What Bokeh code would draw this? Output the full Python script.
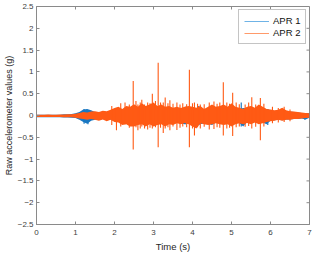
import math
from bokeh.plotting import figure
from bokeh.models import LinearAxis, Legend, LegendItem, Range1d, FixedTicker
from bokeh.embed import file_html
from bokeh.resources import INLINE

# ---- data ----
t_env = [round(0.1 * i, 1) for i in range(71)]

apr2_hi = [0.02, 0.02, 0.02, 0.025, 0.02, 0.02, 0.025, 0.025, 0.03, 0.03,
           0.04, 0.06, 0.08, 0.07, 0.09, 0.10, 0.08, 0.11, 0.10, 0.13,
           0.17, 0.20, 0.15, 0.22, 0.20, 0.26, 0.20, 0.28, 0.22, 0.25,
           0.30, 0.22, 0.25, 0.20, 0.22, 0.18, 0.20, 0.17, 0.20, 0.22,
           0.20, 0.18, 0.22, 0.15, 0.20, 0.25, 0.20, 0.22, 0.25, 0.20,
           0.28, 0.20, 0.18, 0.15, 0.20, 0.22, 0.18, 0.25, 0.20, 0.15,
           0.14, 0.12, 0.13, 0.18, 0.12, 0.10, 0.09, 0.08, 0.07, 0.06, 0.05]
apr2_lo = [-0.035, -0.035, -0.035, -0.035, -0.035, -0.035, -0.035, -0.04, -0.04, -0.04,
           -0.05, -0.07, -0.08, -0.10, -0.08, -0.10, -0.12, -0.09, -0.13, -0.10,
           -0.15, -0.16, -0.22, -0.20, -0.25, -0.25, -0.22, -0.20, -0.25, -0.20,
           -0.25, -0.22, -0.20, -0.25, -0.20, -0.22, -0.18, -0.20, -0.17, -0.20,
           -0.25, -0.30, -0.18, -0.20, -0.22, -0.20, -0.18, -0.20, -0.22, -0.20,
           -0.25, -0.20, -0.18, -0.20, -0.17, -0.20, -0.16, -0.20, -0.18, -0.15,
           -0.13, -0.12, -0.10, -0.12, -0.10, -0.10, -0.08, -0.08, -0.07, -0.06, -0.05]

apr1_hi = [0.02, 0.02, 0.02, 0.02, 0.02, 0.02, 0.02, 0.03, 0.03, 0.035,
           0.05, 0.08, 0.14, 0.15, 0.12, 0.08, 0.07, 0.09, 0.08, 0.10,
           0.14, 0.16, 0.13, 0.18, 0.17, 0.20, 0.18, 0.22, 0.18, 0.20,
           0.22, 0.18, 0.20, 0.17, 0.18, 0.15, 0.16, 0.15, 0.17, 0.18,
           0.17, 0.15, 0.20, 0.13, 0.17, 0.20, 0.17, 0.18, 0.20, 0.17,
           0.22, 0.17, 0.15, 0.17, 0.16, 0.18, 0.15, 0.20, 0.16, 0.15,
           0.12, 0.10, 0.11, 0.14, 0.10, 0.09, 0.08, 0.07, 0.06, 0.06, 0.05]
apr1_lo = [-0.04, -0.04, -0.04, -0.04, -0.04, -0.04, -0.04, -0.045, -0.045, -0.05,
           -0.06, -0.10, -0.15, -0.19, -0.12, -0.10, -0.10, -0.08, -0.11, -0.09,
           -0.13, -0.14, -0.18, -0.17, -0.20, -0.21, -0.19, -0.17, -0.21, -0.18,
           -0.21, -0.19, -0.18, -0.22, -0.18, -0.19, -0.16, -0.18, -0.20, -0.18,
           -0.21, -0.25, -0.20, -0.18, -0.19, -0.22, -0.16, -0.18, -0.19, -0.17,
           -0.21, -0.18, -0.17, -0.25, -0.15, -0.18, -0.15, -0.18, -0.16, -0.20,
           -0.12, -0.11, -0.09, -0.11, -0.09, -0.09, -0.08, -0.08, -0.07, -0.09, -0.05]

spike2_t = [1.93, 2.05, 2.16, 2.27, 2.38, 2.48, 2.55, 2.60, 2.66, 2.70, 2.77, 2.85,
            2.91, 2.97, 3.05, 3.12, 3.18, 3.25, 3.30, 3.37, 3.42, 3.50, 3.60, 3.68,
            3.75, 3.85, 3.92, 4.00, 4.05, 4.13, 4.20, 4.30, 4.43, 4.55, 4.63, 4.70,
            4.79, 4.88, 4.95, 5.03, 5.12, 5.20, 5.35, 5.44, 5.52, 5.62, 5.74, 5.83,
            6.05, 6.20, 6.35, 6.50]
spike2_hi = [0.22, 0.15, 0.28, 0.30, 0.25, 0.79, 0.33, 0.25, 0.30, 0.36, 0.25, 0.30,
             0.28, 0.50, 0.33, 1.21, 0.30, 0.30, 0.41, 0.28, 0.35, 0.27, 0.30, 0.25,
             0.28, 0.26, 1.05, 0.28, 0.30, 0.27, 0.25, 0.26, 0.30, 0.32, 0.27, 0.30,
             0.76, 0.30, 0.27, 0.52, 0.30, 0.26, 0.25, 0.30, 0.42, 0.25, 0.40, 0.27,
             0.20, 0.17, 0.20, 0.14]
spike2_lo = [-0.22, -0.34, -0.25, -0.20, -0.28, -0.78, -0.27, -0.34, -0.30, -0.25, -0.30, -0.32,
             -0.28, -0.30, -0.27, -0.73, -0.28, -0.40, -0.30, -0.27, -0.34, -0.25, -0.33, -0.28,
             -0.25, -0.27, -0.73, -0.30, -0.46, -0.27, -0.30, -0.26, -0.32, -0.31, -0.27, -0.28,
             -0.46, -0.30, -0.28, -0.47, -0.27, -0.25, -0.26, -0.24, -0.30, -0.26, -0.57, -0.25,
             -0.18, -0.16, -0.15, -0.13]

spike1_t = [1.22, 1.32, 3.82, 4.16, 5.25, 5.93, 6.88]
spike1_hi = [0.15, 0.12, 0.20, 0.22, 0.30, 0.15, 0.06]
spike1_lo = [-0.19, -0.20, -0.20, -0.15, -0.25, -0.22, -0.10]

x_ticks = [0, 1, 2, 3, 4, 5, 6, 7]
y_ticks = [-2.5, -2, -1.5, -1, -0.5, 0, 0.5, 1, 1.5, 2, 2.5]
x_min, x_max = 0, 7
y_min, y_max = -2.5, 2.5

BLUE = "#1a78c2"
ORANGE = "#ff5a14"
AXC = "#8a8a8a"
TXT = "#404040"
FONT = "Liberation Sans"

p = figure(width=314, height=254, output_backend="svg", toolbar_location=None,
           x_range=Range1d(x_min, x_max), y_range=Range1d(y_min, y_max),
           min_border_left=32, min_border_right=5, min_border_top=6,
           min_border_bottom=30, x_axis_location=None, y_axis_location=None)
p.xgrid.visible = False
p.ygrid.visible = False
p.outline_line_color = AXC
p.background_fill_color = "white"
p.border_fill_color = "white"

def style_axis(ax):
    ax.axis_line_color = AXC
    ax.major_tick_line_color = AXC
    ax.major_tick_in = 3
    ax.major_tick_out = 0
    ax.minor_tick_line_color = None
    ax.major_label_text_font = FONT
    ax.major_label_text_font_size = "8px"
    ax.major_label_text_color = TXT
    ax.axis_label_text_font = FONT
    ax.axis_label_text_font_size = "9px"
    ax.axis_label_text_font_style = "normal"
    ax.axis_label_text_color = "#262626"

xb = LinearAxis(ticker=FixedTicker(ticks=x_ticks), axis_label="Time (s)")
style_axis(xb)
xb.major_label_standoff = 5
xb.axis_label_standoff = 3
xb.axis_label_text_font_size = "9.5px"
yl = LinearAxis(ticker=FixedTicker(ticks=y_ticks), axis_label="Raw accelerometer values (g)")
style_axis(yl)
yl.major_label_standoff = 3
yl.axis_label_standoff = 1
p.add_layout(xb, "below")
p.add_layout(yl, "left")

# inward tick marks on the top and right edges of the box
p.ray(x=x_ticks, y=[y_max] * len(x_ticks), length=3, length_units="screen",
      angle=-math.pi / 2, line_color=AXC, line_width=1)
p.ray(x=[x_max] * len(y_ticks), y=y_ticks, length=3, length_units="screen",
      angle=math.pi, line_color=AXC, line_width=1)

# APR 1 (blue) first, APR 2 (orange) on top
p.varea(x=t_env, y1=apr1_lo, y2=apr1_hi, fill_color=BLUE)
p.segment(x0=spike1_t, y0=spike1_lo, x1=spike1_t, y1=spike1_hi, line_color=BLUE, line_width=1.2)
p.varea(x=t_env, y1=apr2_lo, y2=apr2_hi, fill_color=ORANGE)
p.segment(x0=spike2_t, y0=spike2_lo, x1=spike2_t, y1=spike2_hi, line_color=ORANGE, line_width=1.1)

lb = p.line(x=[0], y=[0], line_color="#6fb3e6", line_width=1)
lo = p.line(x=[0], y=[0], line_color="#ff9a6a", line_width=1)

legend = Legend(items=[LegendItem(label="APR 1", renderers=[lb]),
                       LegendItem(label="APR 2", renderers=[lo])],
                location=(202, 180), label_text_font=FONT, label_text_font_size="9.5px",
                label_text_color="#111111", glyph_width=25, glyph_height=10,
                label_height=11, label_standoff=4, spacing=1, padding=5, margin=0,
                border_line_color=AXC, border_line_width=1, background_fill_alpha=1)
p.add_layout(legend, "center")

open("out.html", "w").write(file_html(p, INLINE))
